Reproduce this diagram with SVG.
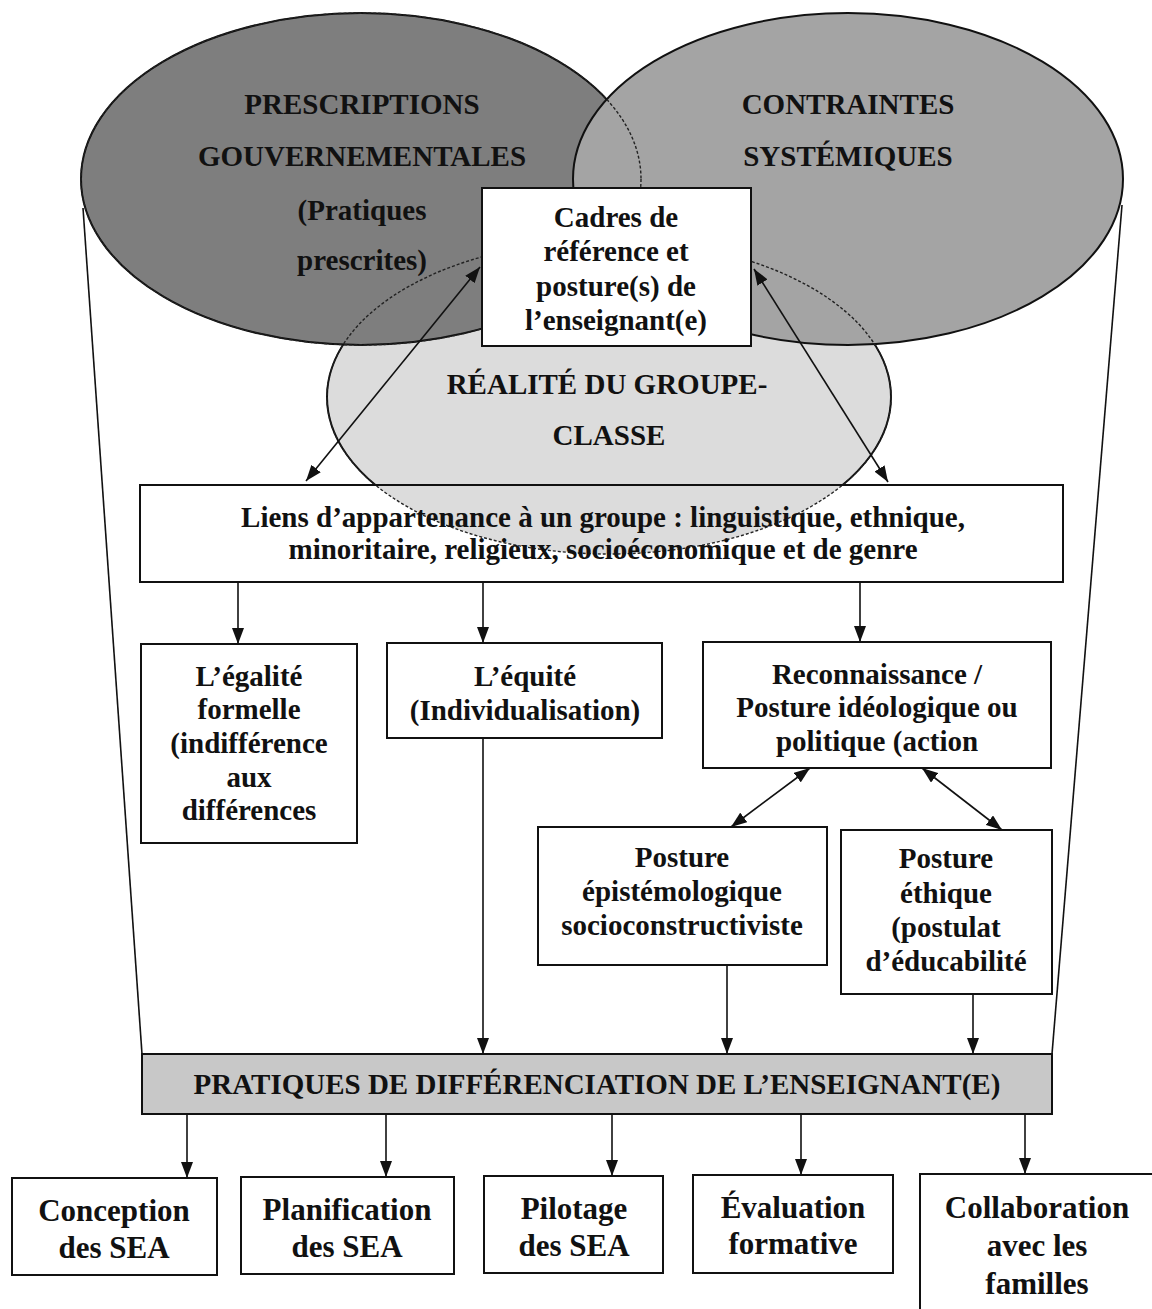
<svg xmlns="http://www.w3.org/2000/svg" width="1152" height="1309" viewBox="0 0 1152 1309">
<style>
text{font-family:"Liberation Serif","Times New Roman",serif;font-weight:bold;font-size:29px;fill:#111;text-anchor:middle}
.big{font-size:31px}
.box{fill:#fff;stroke:#111;stroke-width:2}
.ln{stroke:#111;stroke-width:1.6;fill:none}
.dash{fill:none;stroke:#222;stroke-width:1.4;stroke-dasharray:3 2}
.ell{stroke:#111;stroke-width:2}
</style>
<defs>
<marker id="ah" viewBox="0 0 16 12" refX="16" refY="6" markerWidth="16" markerHeight="12" orient="auto-start-reverse" markerUnits="userSpaceOnUse"><path d="M0,0 L16,6 L0,12 z" fill="#111"/></marker>
<clipPath id="above"><rect x="0" y="0" width="1152" height="485"/></clipPath>
</defs>

<g id="liens-bg"><rect x="140" y="485" width="923" height="97" fill="#fff"/></g>

<g id="realite">
<ellipse cx="609" cy="397" rx="282" ry="157" fill="#dcdcdc"/>
<ellipse cx="609" cy="397" rx="282" ry="157" class="ell" fill="none" clip-path="url(#above)"/>
</g>
<g id="prescriptions">
<ellipse cx="361" cy="179" rx="280" ry="166" class="ell" fill="#7e7e7e"/>
</g>
<g id="contraintes">
<ellipse cx="848" cy="179" rx="275" ry="166" class="ell" fill="#a4a4a4"/>
</g>
<g id="overlaps">
<ellipse cx="361" cy="179" rx="280" ry="166" class="dash"/>
<ellipse cx="609" cy="397" rx="282" ry="157" class="dash"/>
</g>

<g id="ellipse-text">
<text x="362" y="114">PRESCRIPTIONS</text>
<text x="362" y="166">GOUVERNEMENTALES</text>
<text x="362" y="220">(Pratiques</text>
<text x="362" y="270">prescrites)</text>
<text x="848" y="114">CONTRAINTES</text>
<text x="848" y="166">SYSTÉMIQUES</text>
<text x="607" y="394">RÉALITÉ DU GROUPE-</text>
<text x="609" y="445">CLASSE</text>
</g>

<g id="liens">
<rect x="140" y="485" width="923" height="97" fill="none" stroke="#111" stroke-width="2"/>
<text x="603" y="527">Liens d’appartenance à un groupe : linguistique, ethnique,</text>
<text x="603" y="559">minoritaire, religieux, socioéconomique et de genre</text>
</g>

<g id="connectors">
<line class="ln" x1="83" y1="208" x2="142" y2="1054"/>
<line class="ln" x1="1122" y1="205" x2="1052" y2="1054"/>
<line class="ln" x1="480" y1="267" x2="306" y2="481" marker-start="url(#ah)" marker-end="url(#ah)"/>
<line class="ln" x1="754" y1="269" x2="888" y2="482" marker-start="url(#ah)" marker-end="url(#ah)"/>
<line class="ln" x1="238" y1="582" x2="238" y2="644" marker-end="url(#ah)"/>
<line class="ln" x1="483" y1="582" x2="483" y2="643" marker-end="url(#ah)"/>
<line class="ln" x1="860" y1="582" x2="860" y2="642" marker-end="url(#ah)"/>
<line class="ln" x1="810" y1="768" x2="731" y2="827" marker-start="url(#ah)" marker-end="url(#ah)"/>
<line class="ln" x1="922" y1="768" x2="1002" y2="830" marker-start="url(#ah)" marker-end="url(#ah)"/>
<line class="ln" x1="483" y1="738" x2="483" y2="1054" marker-end="url(#ah)"/>
<line class="ln" x1="727" y1="965" x2="727" y2="1054" marker-end="url(#ah)"/>
<line class="ln" x1="973" y1="994" x2="973" y2="1054" marker-end="url(#ah)"/>
<line class="ln" x1="187" y1="1114" x2="187" y2="1178" marker-end="url(#ah)"/>
<line class="ln" x1="386" y1="1114" x2="386" y2="1177" marker-end="url(#ah)"/>
<line class="ln" x1="612" y1="1114" x2="612" y2="1176" marker-end="url(#ah)"/>
<line class="ln" x1="801" y1="1114" x2="801" y2="1175" marker-end="url(#ah)"/>
<line class="ln" x1="1025" y1="1114" x2="1025" y2="1174" marker-end="url(#ah)"/>
</g>

<g id="cadres">
<rect class="box" x="482" y="188" width="269" height="158"/>
<text x="616" y="227">Cadres de</text>
<text x="616" y="261">référence et</text>
<text x="616" y="296">posture(s) de</text>
<text x="616" y="330">l’enseignant(e)</text>
</g>

<g id="egalite">
<rect class="box" x="141" y="644" width="216" height="199"/>
<text x="249" y="686">L’égalité</text>
<text x="249" y="719">formelle</text>
<text x="249" y="753">(indifférence</text>
<text x="249" y="787">aux</text>
<text x="249" y="820">différences</text>
</g>

<g id="equite">
<rect class="box" x="387" y="643" width="275" height="95"/>
<text x="525" y="686">L’équité</text>
<text x="525" y="720">(Individualisation)</text>
</g>

<g id="reconnaissance">
<rect class="box" x="703" y="642" width="348" height="126"/>
<text x="877" y="684">Reconnaissance /</text>
<text x="877" y="717">Posture idéologique ou</text>
<text x="877" y="751">politique (action</text>
</g>

<g id="epistemologique">
<rect class="box" x="538" y="827" width="289" height="138"/>
<text x="682" y="867">Posture</text>
<text x="682" y="901">épistémologique</text>
<text x="682" y="935">socioconstructiviste</text>
</g>

<g id="ethique">
<rect class="box" x="841" y="830" width="211" height="164"/>
<text x="946" y="868">Posture</text>
<text x="946" y="903">éthique</text>
<text x="946" y="937">(postulat</text>
<text x="946" y="971">d’éducabilité</text>
</g>

<g id="pratiques">
<rect x="142" y="1054" width="910" height="60" fill="#c8c8c8" stroke="#111" stroke-width="2"/>
<text x="597" y="1094">PRATIQUES DE DIFFÉRENCIATION DE L’ENSEIGNANT(E)</text>
</g>

<g id="conception">
<rect class="box" x="12" y="1178" width="205" height="97"/>
<text class="big" x="114" y="1221">Conception</text>
<text class="big" x="114" y="1258">des SEA</text>
</g>
<g id="planification">
<rect class="box" x="241" y="1177" width="213" height="97"/>
<text class="big" x="347" y="1220">Planification</text>
<text class="big" x="347" y="1257">des SEA</text>
</g>
<g id="pilotage">
<rect class="box" x="484" y="1176" width="179" height="97"/>
<text class="big" x="574" y="1219">Pilotage</text>
<text class="big" x="574" y="1256">des SEA</text>
</g>
<g id="evaluation">
<rect class="box" x="693" y="1175" width="200" height="98"/>
<text class="big" x="793" y="1218">Évaluation</text>
<text class="big" x="793" y="1254">formative</text>
</g>
<g id="collaboration">
<rect class="box" x="920" y="1174" width="240" height="150"/>
<text class="big" x="1037" y="1218">Collaboration</text>
<text class="big" x="1037" y="1256">avec les</text>
<text class="big" x="1037" y="1294">familles</text>
</g>
</svg>
